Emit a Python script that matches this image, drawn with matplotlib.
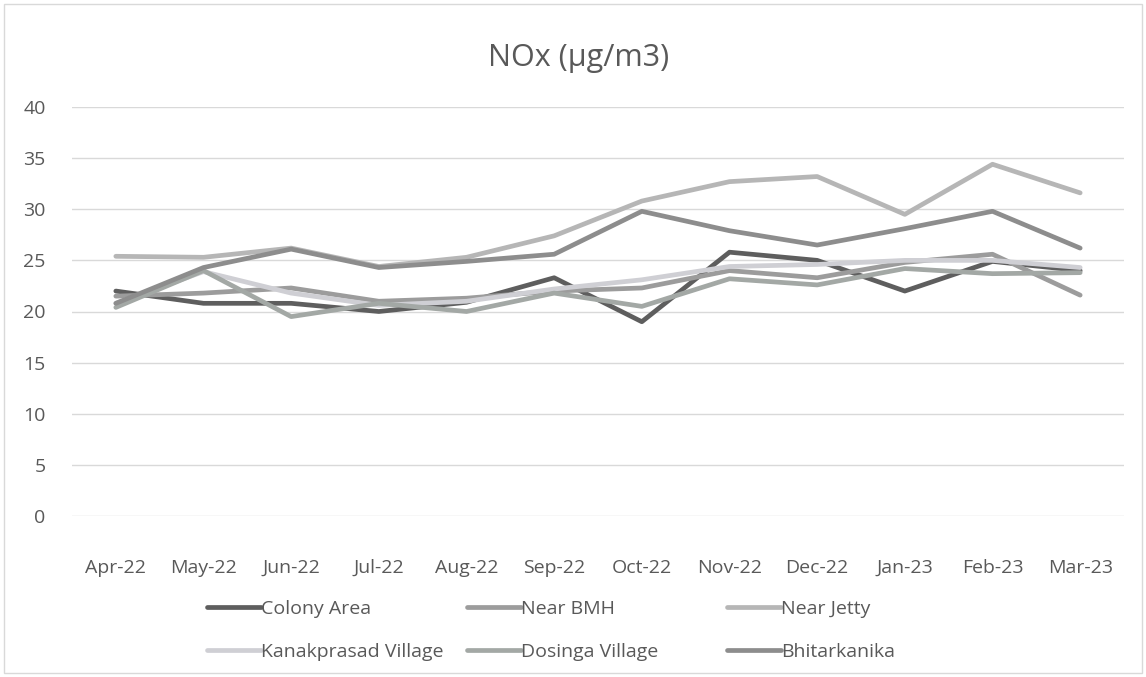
import matplotlib.pyplot as plt
from matplotlib.patches import Rectangle

plt.rcParams['font.family'] = ['Open Sans', 'DejaVu Sans']

months = ['Apr-22', 'May-22', 'Jun-22', 'Jul-22', 'Aug-22', 'Sep-22',
          'Oct-22', 'Nov-22', 'Dec-22', 'Jan-23', 'Feb-23', 'Mar-23']

colony_area = [22.0, 20.8, 20.8, 20.0, 20.9, 23.3, 19.0, 25.8, 25.0, 22.0, 24.9, 24.0]
near_bmh = [21.5, 21.8, 22.3, 21.0, 21.3, 22.0, 22.3, 24.0, 23.3, 24.8, 25.6, 21.6]
near_jetty = [25.4, 25.3, 26.2, 24.4, 25.3, 27.4, 30.8, 32.7, 33.2, 29.5, 34.4, 31.6]
kanakprasad = [20.8, 23.9, 21.8, 20.6, 21.0, 22.2, 23.1, 24.4, 24.6, 25.0, 25.0, 24.3]
dosinga = [20.4, 24.0, 19.5, 20.8, 20.0, 21.8, 20.5, 23.2, 22.6, 24.2, 23.7, 23.8]
bhitarkanika = [20.8, 24.3, 26.1, 24.3, 24.9, 25.6, 29.8, 27.9, 26.5, 28.1, 29.8, 26.2]

series = [
    ('Colony Area', colony_area, '#5e5e5e'),
    ('Near BMH', near_bmh, '#9c9c9c'),
    ('Near Jetty', near_jetty, '#b6b6b6'),
    ('Kanakprasad Village', kanakprasad, '#cfcfd4'),
    ('Dosinga Village', dosinga, '#a3a8a5'),
    ('Bhitarkanika', bhitarkanika, '#8d8d8d'),
]

W, H = 1146, 677
fig = plt.figure(figsize=(W / 100, H / 100), dpi=100)
ax = fig.add_axes([72 / W, 1 - 516 / H, 1052 / W, 409 / H])

x = list(range(len(months)))
handles = {}
for name, vals, col in series:
    ln, = ax.plot(x, vals, color=col, lw=3.4, solid_capstyle='round',
                  solid_joinstyle='round', label=name)
    handles[name] = ln

ax.set_xlim(-0.5, len(months) - 0.5)
ax.set_ylim(0, 40)
ax.set_yticks(range(0, 41, 5))
ax.set_xticks(x)
ax.set_xticklabels(months)
ax.tick_params(axis='both', length=0, labelsize=14, colors='#595959')
ax.tick_params(axis='y', pad=19)
ax.tick_params(axis='x', pad=31)
ax.grid(axis='y', color='#d9d9d9', lw=1)
ax.set_axisbelow(True)
for s in ax.spines.values():
    s.set_visible(False)

fig.text(579 / W, 1 - 58 / H, 'NOx (µg/m3)', ha='center', va='center',
         fontsize=22, color='#595959')

# legend laid out as three equal-width columns
cols = [('Colony Area', 'Kanakprasad Village'),
        ('Near BMH', 'Dosinga Village'),
        ('Near Jetty', 'Bhitarkanika')]
for i, pair in enumerate(cols):
    leg = fig.legend([handles[n] for n in pair], pair, loc='upper left',
                     bbox_to_anchor=((197 + 260 * i) / W, 1 - 590 / H),
                     frameon=False, fontsize=14, handlelength=2.8,
                     handletextpad=0.0, labelspacing=1.3, borderpad=0)
    for t in leg.get_texts():
        t.set_color('#595959')

fig.patches.append(Rectangle((4 / W, 4 / H), 1 - 8 / W, 1 - 8 / H,
                             transform=fig.transFigure, fill=False,
                             edgecolor='#d9d9d9', lw=1))

fig.savefig('out.png', dpi=100)
